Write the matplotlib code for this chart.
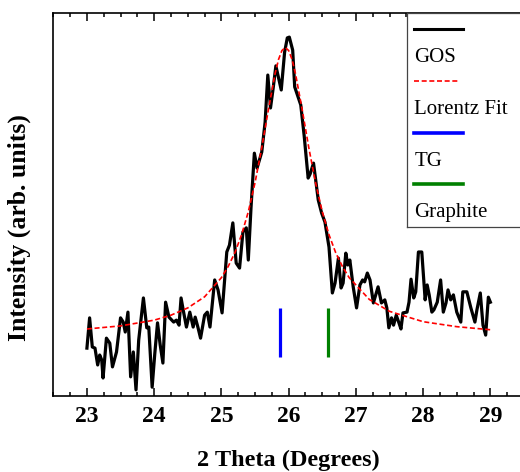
import matplotlib
matplotlib.use("Agg")
import matplotlib.pyplot as plt
from matplotlib.ticker import MultipleLocator

plt.rcParams['font.family'] = ['Liberation Serif', 'DejaVu Serif']

# GOS XRD scan (2 theta in degrees, intensity in arb. units)
two_theta = [23.00, 23.04, 23.08, 23.12, 23.16, 23.19, 23.22, 23.24, 23.29, 23.34,
             23.38, 23.44, 23.50, 23.54, 23.57, 23.61, 23.65, 23.69, 23.73, 23.77,
             23.84, 23.89, 23.92, 23.97, 24.01, 24.05, 24.09, 24.13, 24.17, 24.22,
             24.29, 24.33, 24.37, 24.40, 24.44, 24.48, 24.53, 24.58, 24.61, 24.65,
             24.69, 24.75, 24.79, 24.83, 24.90, 24.95, 25.01, 25.08, 25.12, 25.17,
             25.22, 25.27, 25.32, 25.37, 25.40, 25.44, 25.49, 25.53, 25.60, 25.65,
             25.69, 25.73, 25.77, 25.81, 25.89, 25.94, 25.98, 26.01, 26.06, 26.09,
             26.14, 26.18, 26.23, 26.29, 26.32, 26.37, 26.44, 26.49, 26.54, 26.60,
             26.65, 26.69, 26.74, 26.78, 26.81, 26.85, 26.88, 26.91, 26.96, 27.01,
             27.06, 27.10, 27.13, 27.17, 27.21, 27.26, 27.33, 27.38, 27.43, 27.46,
             27.49, 27.53, 27.56, 27.60, 27.64, 27.67, 27.70, 27.76, 27.79, 27.82,
             27.86, 27.89, 27.93, 27.98, 28.03, 28.06, 28.09, 28.13, 28.16, 28.21,
             28.26, 28.30, 28.34, 28.37, 28.41, 28.45, 28.50, 28.56, 28.59, 28.65,
             28.71, 28.77, 28.80, 28.85, 28.89, 28.93, 28.97, 29.00]
intensity = [12.5, 20.4, 12.8, 12.5, 8.1, 10.7, 9.4, 4.7, 15.1, 13.8,
             7.6, 11.5, 20.4, 19.3, 16.7, 21.9, 5.0, 11.5, 1.6, 14.6,
             25.6, 17.8, 18.0, 2.3, 11.2, 19.1, 13.3, 8.6, 24.5, 20.6,
             19.3, 19.8, 18.5, 25.6, 21.7, 18.0, 21.9, 18.0, 20.6, 18.0,
             15.1, 21.1, 21.9, 18.0, 30.3, 27.7, 21.7, 37.6, 39.4, 45.2,
             34.7, 33.4, 42.8, 43.9, 35.5, 49.1, 63.4, 59.5, 63.7, 71.5,
             83.8, 75.2, 80.4, 86.2, 79.9, 89.8, 93.5, 93.7, 90.3, 80.7,
             78.1, 76.0, 68.1, 56.9, 58.0, 60.8, 51.2, 47.8, 45.4, 38.9,
             26.9, 29.5, 36.0, 28.2, 29.5, 37.3, 34.2, 35.5, 28.5, 23.0,
             29.0, 30.3, 29.8, 32.1, 30.3, 24.3, 28.5, 24.3, 25.1, 23.0,
             17.8, 20.4, 18.5, 21.1, 19.1, 17.5, 21.7, 21.9, 24.5, 30.5,
             25.6, 27.2, 37.6, 37.6, 25.1, 29.0, 26.4, 21.9, 22.5, 24.5,
             30.3, 21.9, 24.3, 27.7, 25.1, 26.4, 21.9, 19.3, 27.2, 27.2,
             23.0, 19.3, 22.5, 26.9, 18.5, 15.9, 25.8, 24.5]

# Lorentz fit curve
fit_theta = [23.0, 23.5, 24.0, 24.25, 24.5, 24.75, 25.0, 25.1, 25.2, 25.3, 25.4, 25.5,
             25.6, 25.7, 25.8, 25.85, 25.9, 25.95, 26.0, 26.05, 26.1, 26.2, 26.3,
             26.4, 26.5, 26.6, 26.7, 26.8, 26.9, 27.2, 27.5, 28.0, 28.5, 29.0]
fit_int = [17.5, 18.3, 19.8, 21.1, 23.0, 25.9, 30.9, 33.8, 37.4, 42.1, 48.1, 55.7,
           64.8, 74.9, 84.3, 87.9, 90.2, 91.0, 90.2, 87.9, 84.3, 74.9, 64.8,
           55.7, 48.1, 42.1, 37.4, 33.8, 30.9, 25.2, 22.1, 19.4, 18.1, 17.3]

# reference peak positions
tg_pos = 25.87
graphite_pos = 26.58
marker_lo, marker_hi = 10.2, 23.0

labels = ['GOS', 'Lorentz Fit', 'TG', 'Graphite']
colors = ['black', 'red', 'blue', 'green']

fig = plt.figure(figsize=(5.2, 4.72), dpi=100)
ax = fig.add_axes([53.3 / 520, 76 / 472, 470.7 / 520, 383 / 472])

ax.plot(two_theta, intensity, color=colors[0], lw=2.3)
ax.plot(fit_theta, fit_int, color=colors[1], lw=1.2, ls=(0, (3, 1.6)))
ax.vlines(tg_pos, marker_lo, marker_hi, color=colors[2], lw=2.3)
ax.vlines(graphite_pos, marker_lo, marker_hi, color=colors[3], lw=2.3)

ax.set_xlim(22.5, 29.5)
ax.set_ylim(0, 100)
ax.set_yticks([])
ax.xaxis.set_major_locator(MultipleLocator(1))
ax.xaxis.set_minor_locator(MultipleLocator(0.25))
ax.tick_params(axis='x', which='both', direction='in', top=True, width=1.1)
ax.tick_params(axis='x', which='major', length=6, pad=7, labelsize=17)
ax.tick_params(axis='x', which='minor', length=3)
for t in ax.get_xticklabels():
    t.set_fontweight('bold')
for s in ax.spines.values():
    s.set_linewidth(1.2)

ax.set_xlabel('2 Theta (Degrees)', fontsize=17.5, fontweight='bold')
ax.set_ylabel('Intensity (arb. units)', fontsize=18.5, fontweight='bold')
ax.xaxis.set_label_coords(0.5, -0.14)
ax.yaxis.set_label_coords(-0.048, 0.44)

# legend box: handle on one row, label on the row below (right side runs off the image)
leg = fig.add_axes([407 / 520, (472 - 227) / 472, 150 / 520, 214 / 472])
leg.set_xlim(0, 150)
leg.set_ylim(214, 0)
leg.set_xticks([])
leg.set_yticks([])
for s in leg.spines.values():
    s.set_linewidth(0.9)
    s.set_color('#444444')
leg.spines['right'].set_visible(False)
handle_rows = [16, 68, 120, 171]
styles = ['-', (0, (3, 1.6)), '-', '-']
widths = [2.2, 1.2, 2.6, 2.6]
for i in range(4):
    yh = handle_rows[i]
    leg.plot([7, 56 if i != 1 else 53], [yh, yh], color=colors[i], lw=widths[i], ls=styles[i])
    leg.text(7.5, yh + 28, labels[i], fontsize=15, va='center', ha='left')

fig.savefig('out.png', dpi=100)
